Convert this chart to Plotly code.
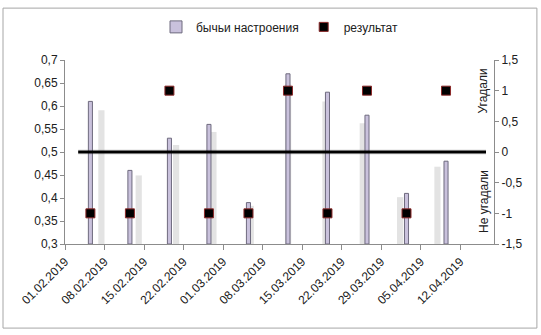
import plotly.graph_objects as go
import pandas as pd

# ---- data ----
dates = ["2019-02-05", "2019-02-12", "2019-02-19", "2019-02-26", "2019-03-05",
         "2019-03-12", "2019-03-19", "2019-03-26", "2019-04-02", "2019-04-09"]
bullish = [0.61, 0.46, 0.53, 0.56, 0.39, 0.67, 0.63, 0.58, 0.41, 0.48]
result = [-1, -1, 1, -1, -1, 1, -1, 1, -1, 1]
threshold_line_dates = ["2019-02-03 08:00", "2019-04-16 14:00"]
threshold_value = [0, 0]
y2_tickvals = [-1.5, -1, -0.5, 0, 0.5, 1, 1.5]
y2_ticktext = ["-1,5", "-1", "-0,5", "0", "0,5", "1", "1,5"]
series_names = ["бычьи настроения", "результат"]

FONT = "Liberation Sans"
DAY = 86400000

x_center = pd.to_datetime(dates) + pd.Timedelta(hours=12)

# perspective shadow (Excel style) derived from the bar data
axis_start = pd.Timestamp("2019-02-01")
center_days = 39.9
sh_scale = 0.945
base_val = 0.2617
sh_x, sh_top = [], []
for xc, v in zip(x_center, bullish):
    d = (xc - axis_start) / pd.Timedelta(days=1)
    d2 = d + (center_days - d) * (1 - sh_scale)
    sh_x.append(axis_start + pd.Timedelta(days=d2))
    sh_top.append(base_val + sh_scale * (v - base_val) - 0.3)

fig = go.Figure()
fig.add_trace(go.Bar(
    x=sh_x, y=sh_top, base=0.3, width=1.1 * DAY,
    marker=dict(color="rgba(175,175,175,0.35)", line=dict(width=0)),
    showlegend=False, hoverinfo="skip"))
fig.add_trace(go.Bar(
    x=x_center, y=[v - 0.3 for v in bullish], base=0.3, width=0.72 * DAY,
    name=series_names[0],
    marker=dict(color="#c9c1dc", line=dict(color="#6e6a7e", width=1))))
fig.add_trace(go.Scatter(
    x=threshold_line_dates, y=threshold_value, yaxis="y2", mode="lines",
    line=dict(color="rgba(120,120,120,0.12)", width=6),
    showlegend=False, hoverinfo="skip"))
fig.add_trace(go.Scatter(
    x=threshold_line_dates, y=threshold_value, yaxis="y2", mode="lines",
    line=dict(color="black", width=3), showlegend=False))
fig.add_trace(go.Scatter(
    x=x_center, y=result, yaxis="y2", mode="markers", name=series_names[1],
    marker=dict(symbol="square", size=9, color="black",
                line=dict(color="#8c2a2a", width=1))))

axcol = "#8c8c8c"
fig.update_layout(
    width=541, height=335,
    margin=dict(l=65, r=47, t=56, b=91),
    paper_bgcolor="white", plot_bgcolor="white",
    separators=", ",
    barmode="overlay",
    font=dict(family=FONT, size=12, color="#202020"),
    showlegend=True,
    legend=dict(orientation="h", x=0.5, xanchor="center", y=1.18, yanchor="middle",
                font=dict(size=12), itemwidth=30, traceorder="normal"),
    xaxis=dict(type="date", range=["2019-02-01", "2019-04-18"],
               tick0="2019-02-01", dtick=7 * DAY, tickformat="%d.%m.%Y",
               tickangle=-45, ticks="outside", ticklen=5, tickcolor=axcol,
               showline=True, linecolor=axcol, showgrid=False, zeroline=False,
               tickfont=dict(size=12)),
    yaxis=dict(range=[0.3, 0.7], dtick=0.05, tick0=0.3, ticks="outside",
               ticklen=4, tickcolor=axcol, showline=True, linecolor=axcol,
               showgrid=False, zeroline=False, tickfont=dict(size=12)),
    yaxis2=dict(range=[-1.5, 1.5], overlaying="y", side="right",
                tickvals=y2_tickvals, ticktext=y2_ticktext, ticks="outside",
                ticklen=4, tickcolor=axcol, showline=True, linecolor=axcol,
                showgrid=False, zeroline=False, tickfont=dict(size=12)),
    annotations=[
        dict(text="Угадали", xref="paper", yref="paper", x=0.975, y=0.83,
             xanchor="center", yanchor="middle",
             textangle=-90, showarrow=False, font=dict(size=12)),
        dict(text="Не угадали", xref="paper", yref="paper", x=0.975, y=0.23,
             xanchor="center", yanchor="middle",
             textangle=-90, showarrow=False, font=dict(size=12)),
    ],
    shapes=[dict(type="rect", xref="paper", yref="paper",
                 x0=-0.1445, x1=1.1, y0=-0.457, y1=1.282,
                 line=dict(color="#a6a6a6", width=1))],
)

fig.write_html("out.html")
